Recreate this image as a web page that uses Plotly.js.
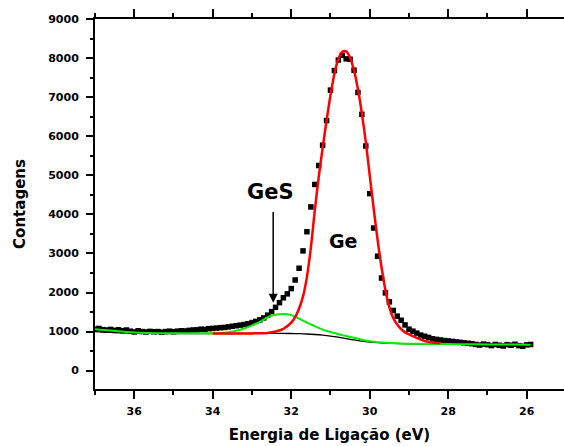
<!DOCTYPE html>
<html>
<head>
<meta charset="utf-8">
<script src="https://cdn.plot.ly/plotly-3.0.1.min.js"></script>
<style>
html,body{margin:0;padding:0;background:#fff;}
#chart{width:564px;height:446px;}
</style>
</head>
<body>
<div id="chart"></div>
<script>
// Measured spectrum (binding energy, eV) and counts
const dataX = [
 37.0,36.9,36.8,36.7,36.6,36.5,36.4,36.3,36.2,36.1,
 36.0,35.9,35.8,35.7,35.6,35.5,35.4,35.3,35.2,35.1,
 35.0,34.9,34.8,34.7,34.6,34.5,34.4,34.3,34.2,34.1,
 34.0,33.9,33.8,33.7,33.6,33.5,33.4,33.3,33.2,33.1,
 33.0,32.9,32.8,32.7,32.6,32.5,32.4,32.3,32.2,32.1,
 32.0,31.9,31.8,31.7,31.6,31.5,31.4,31.3,31.2,31.1,
 31.0,30.9,30.8,30.7,30.6,30.5,30.4,30.3,30.2,30.1,
 30.0,29.9,29.8,29.7,29.6,29.5,29.4,29.3,29.2,29.1,
 29.0,28.9,28.8,28.7,28.6,28.5,28.4,28.3,28.2,28.1,
 28.0,27.9,27.8,27.7,27.6,27.5,27.4,27.3,27.2,27.1,
 27.0,26.9,26.8,26.7,26.6,26.5,26.4,26.3,26.2,26.1,
 26.0,25.9];
const dataY = [
 1060,1080,1050,1040,1055,1030,1045,1020,1040,1010,
 990,1020,1000,990,1005,995,1000,985,1000,1010,
 995,1010,1020,1015,1030,1040,1045,1060,1055,1075,
 1080,1090,1100,1105,1120,1135,1150,1165,1180,1200,
 1230,1260,1300,1350,1420,1510,1620,1740,1865,1965,
 2100,2320,2620,3065,3555,4190,4765,5250,5770,6400,
 7180,7680,7950,8070,7980,7970,7690,7120,6560,5750,
 4530,3650,2930,2370,1990,1760,1540,1395,1290,1170,
 1060,1010,960,910,880,850,815,800,785,770,
 760,748,735,725,712,700,690,670,655,680,
 665,640,670,650,630,665,650,675,640,625,
 660,670];

// Background (black line)
const bgX = [37.0,36.5,36.0,35.5,35.0,34.0,33.0,32.5,32.0,31.8,31.6,31.4,31.2,31.0,30.8,30.6,30.4,30.2,30.0,29.8,29.6,29.4,29.0,28.5,28.0,27.0,26.0,25.9];
const bgY = [1000,975,958,952,950,950,952,955,950,945,938,925,908,885,855,820,785,755,732,715,705,697,688,684,680,673,665,665];

// GeS component (green line)
const gesX = [37.0,36.8,36.6,36.4,36.2,36.0,35.5,35.0,34.5,34.0,33.8,33.6,33.4,33.2,33.0,32.8,32.6,32.4,32.2,32.0,31.8,31.6,31.4,31.2,31.0,30.8,30.6,30.4,30.2,30.0,29.8,29.6,29.4,29.0,28.5,28.0,27.5,27.0,26.5,26.0,25.9];
const gesY = [1060,1040,1030,1010,990,975,960,955,955,958,965,985,1020,1080,1160,1250,1370,1430,1450,1420,1330,1230,1140,1050,990,930,885,840,790,755,730,712,700,688,684,680,676,672,668,665,665];

// Ge component (red line)
const geX = [34.0,33.5,33.0,32.6,32.4,32.2,32.0,31.9,31.8,31.7,31.6,31.5,31.4,31.3,31.2,31.1,31.0,30.9,30.8,30.7,30.6,30.5,30.4,30.3,30.2,30.1,30.0,29.9,29.8,29.7,29.6,29.5,29.4,29.3,29.2,29.1,29.0,28.8,28.6,28.4,28.2];
const geY = [950,950,953,965,1000,1070,1230,1370,1590,1900,2400,3150,4100,4950,5700,6400,7050,7600,7980,8160,8170,8010,7680,7200,6580,5850,5000,4150,3350,2650,2060,1620,1340,1180,1060,980,930,840,760,720,700];

const xTickVals = [36,34,32,30,28,26];
const yTickVals = [0,1000,2000,3000,4000,5000,6000,7000,8000,9000];

const tickFont = {family:'DejaVu Sans, Arial, sans-serif', size:11, color:'#000', weight:'bold'};
const titleFont = {family:'DejaVu Sans, Arial, sans-serif', size:15, color:'#000', weight:'bold'};

const traces = [
 {x:dataX, y:dataY, type:'scatter', mode:'markers',
  marker:{symbol:'square', size:5.5, color:'#000'}, hoverinfo:'skip'},
 {x:bgX, y:bgY, type:'scatter', mode:'lines',
  line:{color:'#000', width:1.3, shape:'spline', smoothing:0.8}},
 {x:gesX, y:gesY, type:'scatter', mode:'lines',
  line:{color:'#00ee00', width:2, shape:'spline', smoothing:0.8}},
 {x:geX, y:geY, type:'scatter', mode:'lines',
  line:{color:'#ff0000', width:2.5, shape:'spline', smoothing:0.8}}
];

const layout = {
 width:564, height:446,
 margin:{l:95, r:0, t:19, b:57},
 paper_bgcolor:'#fff', plot_bgcolor:'#fff',
 showlegend:false,
 xaxis:{
  range:[37, 25.05], autorange:false,
  tickmode:'array', tickvals:xTickVals,
  ticks:'outside', ticklen:8, tickwidth:2, tickcolor:'#000',
  minor:{dtick:1, tick0:37, ticks:'outside', ticklen:4, tickwidth:2, tickcolor:'#000'},
  showline:true, linewidth:2, linecolor:'#000', mirror:'ticks',
  showgrid:false, zeroline:false,
  tickfont:tickFont, ticklabelstandoff:3,
  title:{text:'Energia de Ligação (eV)', font:titleFont, standoff:12}
 },
 yaxis:{
  range:[-470, 9000], autorange:false,
  tickmode:'array', tickvals:yTickVals,
  ticks:'outside', ticklen:7, tickwidth:2, tickcolor:'#000',
  minor:{dtick:500, tick0:0, ticks:'outside', ticklen:3, tickwidth:2, tickcolor:'#000'},
  showline:true, linewidth:2, linecolor:'#000', mirror:false,
  showgrid:false, zeroline:false,
  tickfont:tickFont, ticklabelstandoff:5,
  title:{text:'Contagens', font:titleFont, standoff:19}
 },
 annotations:[
  {x:32.46, y:1735, ax:32.46, ay:4100, xref:'x', yref:'y', axref:'x', ayref:'y',
   showarrow:true, arrowhead:2, arrowsize:1.2, arrowwidth:1.5, arrowcolor:'#000', text:''},
  {x:32.52, y:4560, xref:'x', yref:'y', showarrow:false, text:'GeS',
   font:{family:'DejaVu Sans, Arial, sans-serif', size:21, color:'#000', weight:'bold'}},
  {x:30.67, y:3320, xref:'x', yref:'y', showarrow:false, text:'Ge',
   font:{family:'DejaVu Sans, Arial, sans-serif', size:19, color:'#000', weight:'bold'}}
 ]
};

Plotly.newPlot('chart', traces, layout, {staticPlot:true, displayModeBar:false});
</script>
</body>
</html>
